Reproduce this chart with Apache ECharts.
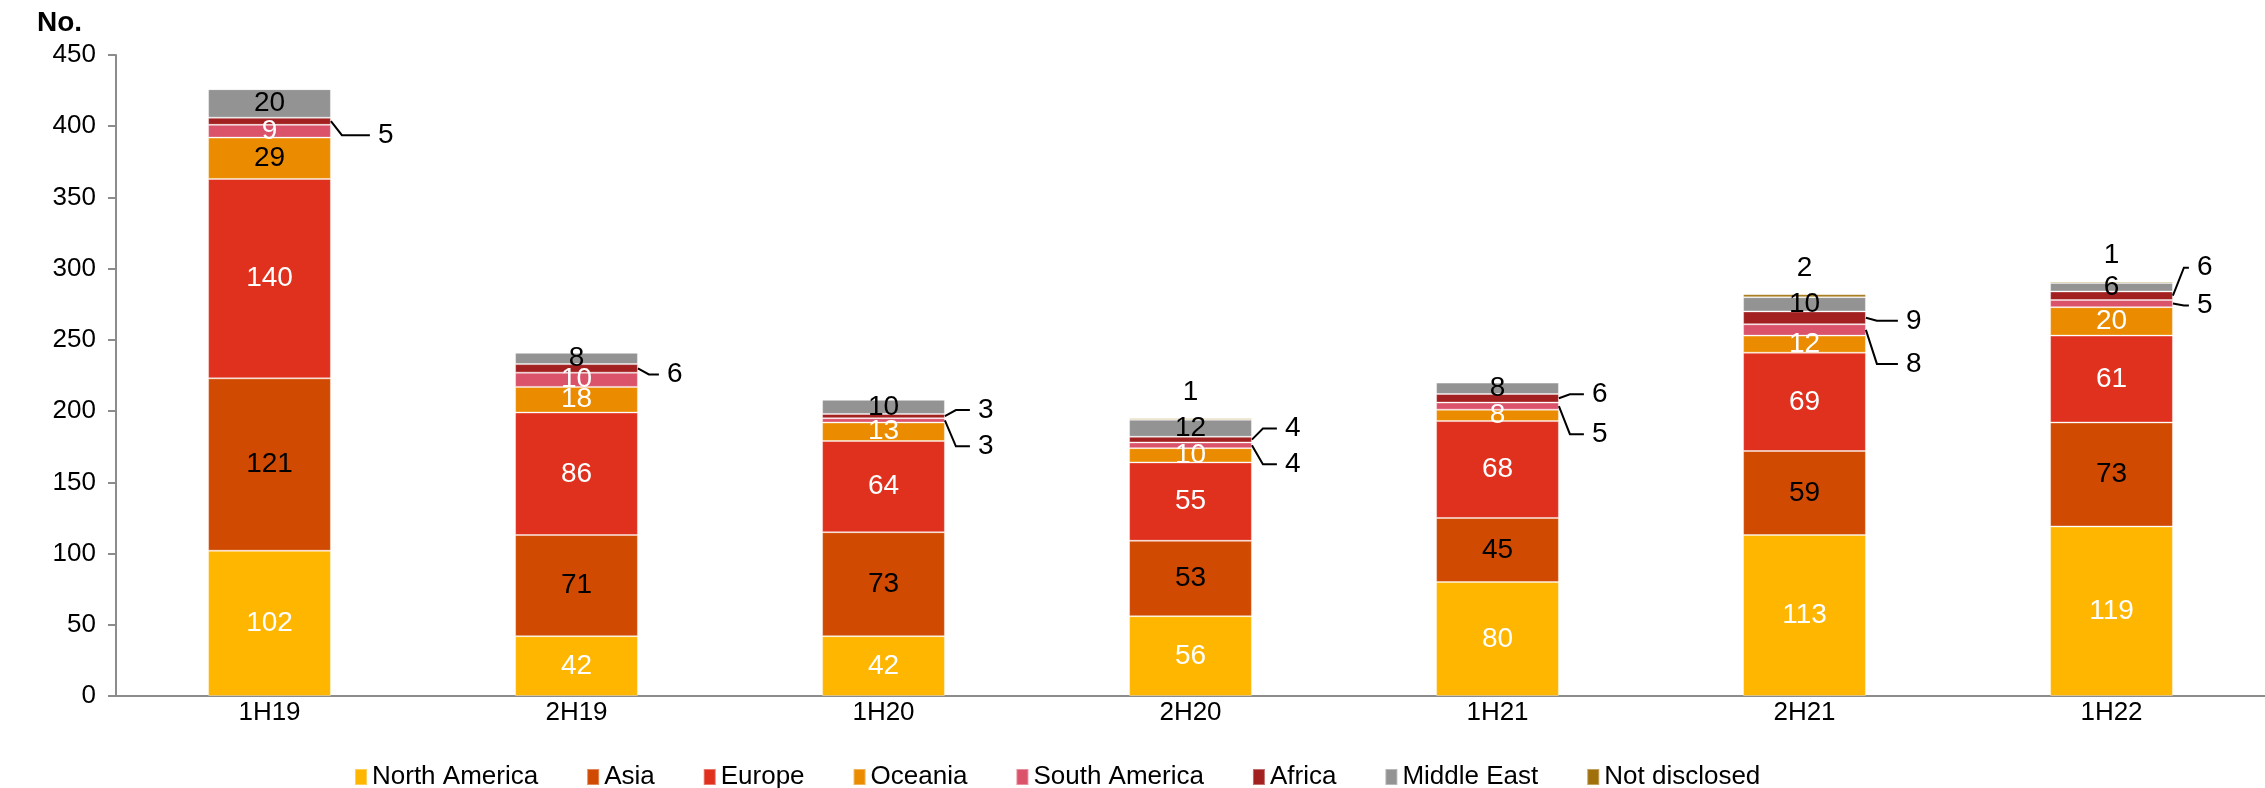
<!DOCTYPE html>
<html>
<head>
<meta charset="utf-8">
<script src="https://cdn.jsdelivr.net/npm/echarts@6/dist/echarts.min.js"></script>
<style>
	html, body { margin: 0; padding: 0; background: #fff; }
	#chart { width: 2265px; height: 788px; }
</style>
</head>
<body>
<div id="chart"></div>
<script>
var categories = [ '1H19', '2H19', '1H20', '2H20', '1H21', '2H21', '1H22' ];
var northAmerica = [ 102, 42, 42, 56, 80, 113, 119 ];
var asia = [ 121, 71, 73, 53, 45, 59, 73 ];
var europe = [ 140, 86, 64, 55, 68, 69, 61 ];
var oceania = [ 29, 18, 13, 10, 8, 12, 20 ];
var southAmerica = [ 9, 10, 3, 4, 5, 8, 5 ];
var africa = [ 5, 6, 3, 4, 6, 9, 6 ];
var middleEast = [ 20, 8, 10, 12, 8, 10, 6 ];
var notDisclosed = [ 0, 0, 0, 1, 0, 2, 1 ];

var FONT = 'Liberation Sans, Arial, sans-serif';

// stack order, bottom to top
var stack = [
	{ name : 'North America', color : '#FFB600', data : northAmerica, labelColor : '#fff' },
	{ name : 'Asia', color : '#D04A02', data : asia, labelColor : '#000' },
	{ name : 'Europe', color : '#E0301E', data : europe, labelColor : '#fff' },
	{ name : 'Oceania', color : '#EB8C00', data : oceania, labelColor : '#fff' },
	{ name : 'South America', color : '#DB536A', data : southAmerica, labelColor : '#fff' },
	{ name : 'Africa', color : '#A32020', data : africa, labelColor : '#fff' },
	{ name : 'Middle East', color : '#939393', data : middleEast, labelColor : '#000' },
	{ name : 'Not disclosed', color : '#A0700A', data : notDisclosed, labelColor : '#000' }
];

// thin segments labelled outside with a leader line:
// [category, stack index, label shift down px, extra shift right px]
var calloutLayout = [
	[ 0, 5, 14, 14 ], [ 1, 5, 6, -4 ],
	[ 2, 5, -6, 0 ], [ 2, 4, 26, 0 ],
	[ 3, 5, -11, 0 ], [ 3, 4, 19, 0 ],
	[ 4, 5, -4, 0 ], [ 4, 4, 28, 0 ],
	[ 5, 5, 3, 7 ], [ 5, 4, 34, 7 ],
	[ 6, 5, -28, -9 ], [ 6, 4, 2, -9 ]
];

function isCallout(cat, s) {
	for (var i = 0; i < calloutLayout.length; i++) {
		if (calloutLayout[i][0] === cat && calloutLayout[i][1] === s) return true;
	}
	return false;
}

var myChart = echarts.init(document.getElementById('chart'));

var series = stack.map(function(item, s) {
	var last = s === stack.length - 1;
	return {
		name : item.name,
		type : 'bar',
		stack : 'total',
		barWidth : '40%',
		itemStyle : {
			color : item.color,
			borderColor : 'rgba(255,255,255,0.35)',
			borderWidth : 1
		},
		label : {
			show : true,
			position : last ? 'top' : 'inside',
			distance : 12,
			color : item.labelColor,
			fontSize : 28,
			fontFamily : FONT
		},
		data : item.data.map(function(v, cat) {
			var d = { value : v };
			if (v === 0 || isCallout(cat, s)) {
				d.label = { show : false };
			} else if (s === 3 && cat === 0) {
				d.label = { color : '#000' };
			}
			return d;
		})
	};
});

// leader lines + labels for the thin segments
series.push({
	type : 'custom',
	silent : true,
	z : 10,
	data : calloutLayout.map(function(c) { return [ c[0], 0 ]; }),
	renderItem : function(params, api) {
		var c = calloutLayout[params.dataIndex];
		var cat = c[0], s = c[1], dy = c[2], dx = c[3];
		var base = 0;
		for (var i = 0; i < s; i++) base += stack[i].data[cat];
		var v = stack[s].data[cat];
		var p = api.coord([ cat, base + v / 2 ]);
		var band = api.size([ 1, 0 ])[0];
		var x0 = p[0] + band * 0.2;
		var y0 = p[1], y1 = p[1] + dy;
		return {
			type : 'group',
			children : [ {
				type : 'polyline',
				shape : { points : [ [ x0, y0 ], [ x0 + 11, y1 ], [ x0 + 25 + dx, y1 ] ] },
				style : { stroke : '#000', lineWidth : 2, fill : null }
			}, {
				type : 'text',
				style : {
					text : String(v),
					x : x0 + 33 + dx,
					y : y1,
					align : 'left',
					verticalAlign : 'middle',
					fontSize : 28,
					fontFamily : FONT,
					fill : '#000'
				}
			} ]
		};
	}
});

var option = {
	animation : false,
	title : {
		text : 'No.',
		left : 32,
		top : 4,
		textStyle : { fontSize : 28, fontWeight : 'bold', fontFamily : FONT, color : '#000' }
	},
	legend : {
		data : stack.map(function(item) { return item.name; }),
		icon : 'rect',
		left : 349,
		top : 759,
		itemWidth : 12,
		itemHeight : 16,
		itemGap : 48,
		textStyle : { fontSize : 26, fontFamily : FONT, color : '#000' }
	},
	grid : {
		left : 116,
		right : 0,
		top : 55,
		bottom : 92,
		containLabel : false,
		outerBoundsMode : 'none'
	},
	xAxis : {
		type : 'category',
		data : categories,
		axisLine : { lineStyle : { color : '#8c8c8c', width : 2 } },
		axisTick : { show : false },
		axisLabel : { fontSize : 26, fontFamily : FONT, color : '#000', margin : 4 }
	},
	yAxis : {
		type : 'value',
		min : 0,
		max : 450,
		interval : 50,
		axisLine : { show : true, lineStyle : { color : '#8c8c8c', width : 2 } },
		axisTick : { show : true, length : 8, lineStyle : { color : '#8c8c8c', width : 2 } },
		splitLine : { show : false },
		axisLabel : { fontSize : 26, fontFamily : FONT, color : '#000', margin : 20 }
	},
	series : series
};

myChart.setOption(option);
</script>
</body>
</html>
